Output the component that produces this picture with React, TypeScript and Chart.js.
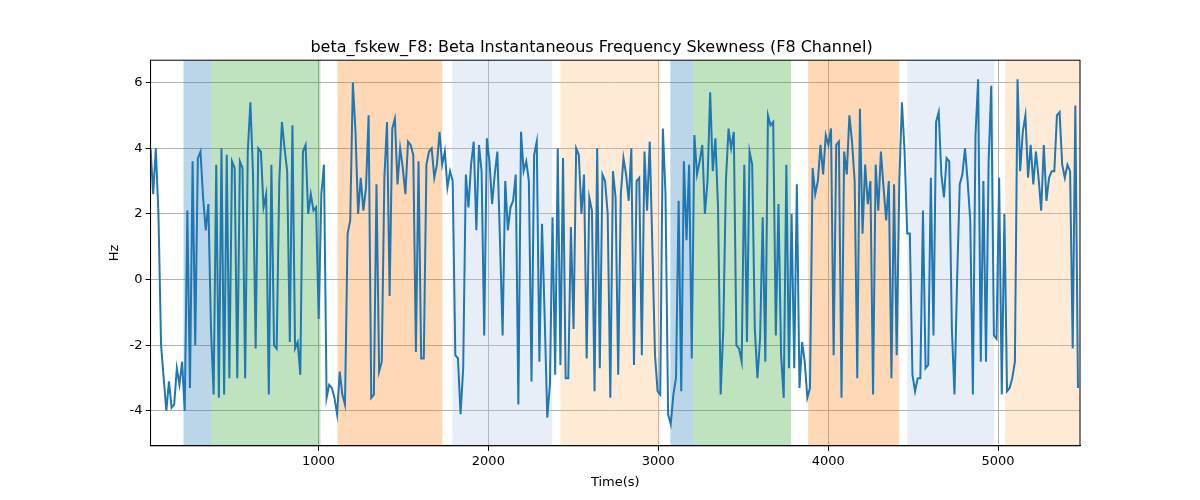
import React, { useEffect, useRef } from "react";
import { Chart, registerables } from "chart.js";
Chart.register(...registerables);

const seg1 = [4.0, 2.6, 4.0, 2.0, -2, -3.0, -4.0, -3.1, -3.9, -3.8, -2.7, -3.2, -2.5, -4.0, 2.1, -3.3, 3.6, -2.0, 3.7, 3.9, 2.5, 1.5, 2.3, -1.5, -3.5, 3.5, -3.6, 4.0, -3.5, 3.8, -3.0, 3.6, 3.4, -3.0, 3.6, 3.4, -3.0, 3.9, 5.4, 3.2, -2.1, 4.0, 3.9, 2.2, 2.6, -3.5, 3.5, -2.0, -2.1, 3.0, 4.8, 4.0, 3.3, -1.9, 4.7, -2.1, -1.9, -2.9, 3.9, 4.1, 2.0, 2.6, 2.1, 2.2, -1.2, 2.6, 3.5, -3.6, -3.2, -3.3, -3.6, -4.1, -2.8, -3.5, -3.8, 1.4, 1.8, 6.0, 4.5, 2.0, 3.1, 2.1, 2.8, 5.0, -3.6, -3.5, 2.9, -2.8, -2.5, 3.1, 4.8, -0.5, 4.6, 4.9];
const seg2 = [2.9, 4.0, 3.4, 2.6, 4.2, 4.1, 3.8, -2.2, 3.6, -2.4, -2.4, 3.5, 3.9, 4.0, 3.1, 3.5, 4.5, 3.5, 3.9, 2.8, 3.3, 3.0, -2.3, -2.4, -4.1, -2.7, 3.2, 2.2, 3.5, 4.2, 1.5, 4.1, 3.3, -1.7, 4.3, 3.6, 2.3, 3.2, 3.9, 1.2, -1.7, 3.0, 1.5, 2.2, 2.4, 3.2, -3.8, 4.5, 3.3, 3.6, 3.0, -3.1, 3.8, 4.2, -2.5, 1.7, -1.1, -4.2, -3.2, 1.9, -2.9, 4.0, -2.6, 3.7, -3.0, -3.0, 1.6, -1.5, 4.0, 3.8, 2.0, 3.2, -2.4, 2.5, 2.1, -3.4, 4.0, -2.7, 3.2, 3.0, 2.0, -3.6, 3.3, 2.5, -2.9, 2.6, 3.7, 3.2, 2.4];
const seg3 = [4.0, -2.6, 3.0, 3.1, -2.3, 3.9, 2.1, 4.2, 1.0, -2.3, -3.4, -3.5, 4.6, 2.6, -4.1, -4.4, -3.5, -3.0, 2.4, -3.4, 3.6, 1.2, 3.5, -2.4, 4.4, 3.2, 3.6, 4.1, 2.0, 3.0, 5.7, 3.3, 4.3, 2.2, -3.5, -1.5, 3.0, 4.6, 4.0, 4.5, -2.0, -2.1, -2.5, 3.5, -1.9, 3.9, 3.5, -1.5, -3.0, -1.8, 1.9, -2.5, 5.0, 4.7, 4.8, -1.7, 2.3, -2.3, -3.6, 3.5, -2.7, 2.0, -2.7, 2.9, -3.3, -1.9, -2.5, -3.6, -3.3, 3.4, 2.6, 3.0, 4.1, 3.2, 4.4, 4.1, 4.6, -2.3, 4.1, 4.2, -3.6, 3.9, 3.2];
const seg4 = [5.0, 4.2, 3.0, -3.0, 5.2, 1.4, 3.5, 2.3, 3.0, -3.5, 3.5, 2.1, 3.9, 2.8, 1.8, 3.0, -3.0, 2.9, -2.3, 3.0, 5.4, 3.9, 1.4, 1.4, -2.9, -3.4, -3.0, -3.0, 2.1, -2.7, -2.6, 3.1, -1.7, 4.8, 5.1, 3.2, 2.5, 3.7, 3.6, -1.5, -3.5, 0.0, 2.9, 3.2, 4.0, 3.0, 1.8, -3.5, 4.4, 6.1, -2.5, 3.0, -2.5, 3.6, 5.9, -1.7, -1.8, 3.1, -3.5, 2.0, -3.4, -3.3, -3.0, -2.5, 6.1, 3.3, 4.5, 5.0, 3.1, 4.1, 2.9, 3.9, 3.1, 2.1, 4.1, 2.4, 3.1, 3.3, 3.3, 5.0, 5.1, 3.5, 3.1, 3.5, 3.3, -2.1, 5.3, -3.3];
const values = [...seg1, ...seg2, ...seg3, ...seg4];
const xStart = 12;
const xEnd = 5470;
const xTicks = [1000, 2000, 3000, 4000, 5000];
const yTicks = [-4, -2, 0, 2, 4, 6];

const bands: [number, number, string][] = [
  [206, 371, "rgba(31,119,180,0.3)"],
  [371, 1012, "rgba(44,160,44,0.3)"],
  [1112, 1729, "rgba(255,127,14,0.3)"],
  [1788, 2376, "rgba(174,199,232,0.3)"],
  [2424, 3012, "rgba(255,187,120,0.3)"],
  [3071, 3206, "rgba(31,119,180,0.3)"],
  [3206, 3782, "rgba(44,160,44,0.3)"],
  [3882, 4418, "rgba(255,127,14,0.3)"],
  [4465, 4976, "rgba(174,199,232,0.3)"],
  [5041, 5482, "rgba(255,187,120,0.3)"],
];

const bandPlugin = {
  id: "bands",
  beforeDatasetsDraw(chart: any) {
    const { ctx, chartArea, scales } = chart;
    ctx.save();
    for (const [a, b, c] of bands) {
      const x1 = Math.max(scales.x.getPixelForValue(a), chartArea.left);
      const x2 = Math.min(scales.x.getPixelForValue(b), chartArea.right);
      ctx.fillStyle = c;
      ctx.fillRect(x1, chartArea.top, x2 - x1, chartArea.bottom - chartArea.top);
    }
    ctx.restore();
  },
  afterDraw(chart: any) {
    const { ctx, chartArea } = chart;
    ctx.save();
    ctx.strokeStyle = "#000";
    ctx.lineWidth = 1;
    ctx.strokeRect(chartArea.left, chartArea.top, chartArea.right - chartArea.left, chartArea.bottom - chartArea.top);
    ctx.restore();
  },
};

export default function App() {
  const ref = useRef<HTMLCanvasElement>(null);
  useEffect(() => {
    const n = values.length;
    const data = values.map((v, i) => ({ x: xStart + (i * (xEnd - xStart)) / (n - 1), y: v }));
    const chart = new Chart(ref.current!, {
      type: "line",
      data: { datasets: [{ data, borderColor: "#1f77b4", borderWidth: 2, pointRadius: 0, tension: 0 }] },
      options: {
        animation: false,
        responsive: false,
        layout: { padding: { left: 103, right: 120, top: 38, bottom: 8 } },
        plugins: {
          legend: { display: false },
          title: { display: true, text: "beta_fskew_F8: Beta Instantaneous Frequency Skewness (F8 Channel)", color: "#000", font: { size: 16, family: "DejaVu Sans", weight: "normal" }, padding: { top: 0, bottom: 3 } },
        },
        scales: {
          x: {
            type: "linear", min: 12, max: 5482,
            title: { display: true, text: "Time(s)", color: "#000", font: { size: 13, family: "DejaVu Sans" }, padding: 2 },
            ticks: { color: "#000", font: { size: 13, family: "DejaVu Sans" }, callback: (v: any) => String(v) },
            afterBuildTicks: (ax: any) => { ax.ticks = xTicks.map((v) => ({ value: v })); },
            grid: { color: "#b0b0b0", tickColor: "#000", tickLength: 5 },
            border: { color: "#000" },
          },
          y: {
            min: -5.06, max: 6.68,
            title: { display: true, text: "Hz", color: "#000", font: { size: 13, family: "DejaVu Sans" } },
            ticks: { color: "#000", font: { size: 13, family: "DejaVu Sans" }, callback: (v: any) => String(v) },
            afterBuildTicks: (ax: any) => { ax.ticks = yTicks.map((v) => ({ value: v })); },
            grid: { color: "#b0b0b0", tickColor: "#000", tickLength: 5 },
            border: { color: "#000" },
          },
        },
      },
      plugins: [bandPlugin],
    });
    return () => chart.destroy();
  }, []);
  return <canvas ref={ref} width={1200} height={500} style={{ display: "block", margin: "-8px" }} />;
}
